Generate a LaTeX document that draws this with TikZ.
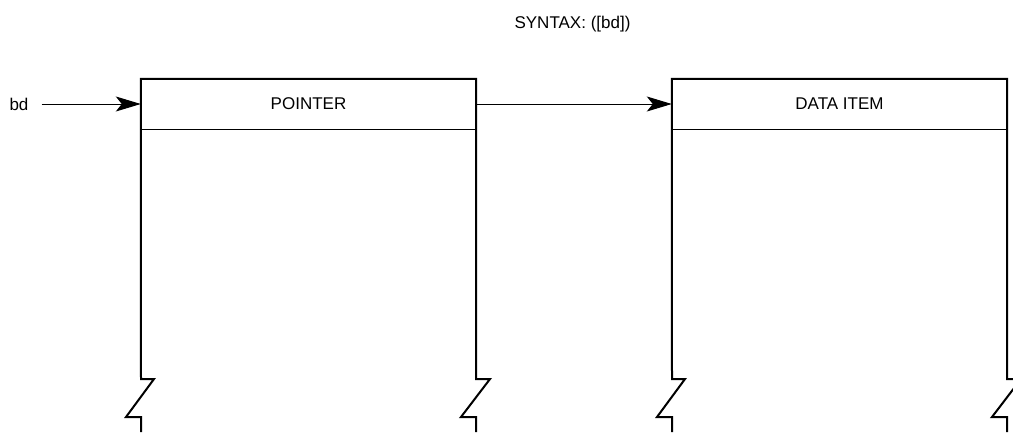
\documentclass[tikz,border=0pt]{standalone}
\usepackage{fontspec}
\setmainfont{Liberation Sans}
\usetikzlibrary{arrows.meta}
\begin{document}
\begin{tikzpicture}[x=1pt,y=-1pt,
  txt/.style={font=\fontsize{17}{20}\selectfont, inner sep=0pt},
  hdr/.style={txt, minimum width=335pt, minimum height=50pt},
  wall/.style={line width=2pt, line join=miter},
  divider/.style={line width=1pt},
  conn/.style={line width=1pt, -{Stealth[length=25pt,width=15pt,inset=6pt]}}]
\useasboundingbox (0,0) rectangle (1013,432);
% title
\node[txt, anchor=base] (syntax) at (572.5,28) {SYNTAX: ([bd])};
% headers
\node[hdr] (ptr) at (308.5,104) {POINTER};
\node[hdr] (data) at (839.5,104) {DATA ITEM};
% label
\node[txt, inner xsep=13pt] (bd) at (19,104) {bd};
% pointer block walls
\draw[wall] (141,432) -- ++(0,-15) -- ++(-15,0) -- ++(28,-38) -- ++(-13,0)
  -- (ptr.north west) -- (ptr.north east) -- (476,379)
  -- ++(14,0) -- ++(-29,38) -- ++(15,0) -- ++(0,15);
\draw[divider] (ptr.south west) -- (ptr.south east);
% data block walls
\draw[wall] (672,432) -- ++(0,-15) -- ++(-15,0) -- ++(28,-38) -- ++(-13,0)
  -- (data.north west) -- (data.north east) -- (1007,379)
  -- ++(14,0) -- ++(-29,38) -- ++(15,0) -- ++(0,15);
\draw[divider] (data.south west) -- (data.south east);
% connectors
\draw[conn] (bd.east) -- (ptr.west);
\draw[conn] (ptr.east) -- (data.west);
\end{tikzpicture}
\end{document}
